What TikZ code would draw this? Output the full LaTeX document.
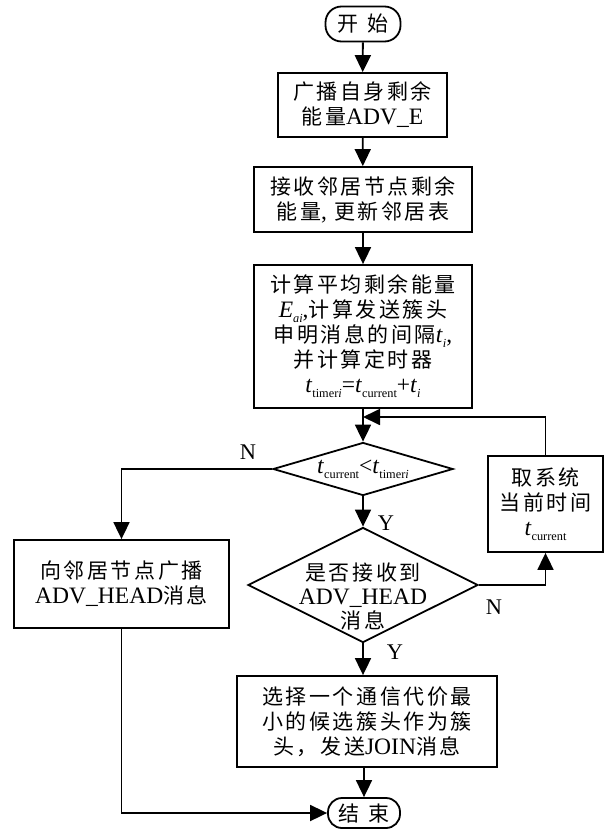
\documentclass[tikz,border=0pt]{standalone}
\usepackage{fontspec}
\setmainfont[Scale=1.12]{Liberation Serif}
\newfontfamily\cjk[LetterSpace=12]{Noto Sans CJK SC}
\usetikzlibrary{shapes.geometric,arrows.meta}
\newcommand{\en}[1]{{\rmfamily #1}}
\newcommand{\sub}[1]{\raisebox{-0.45ex}{\fontsize{11}{11}\selectfont #1}}
\newcommand{\tv}[1]{\en{\textit{t}\sub{#1}}}
\tikzset{
  base/.style={draw,line width=1.8pt,inner sep=0pt,align=center,
    font=\cjk\fontsize{21}{25}\selectfont},
  proc/.style={base,rectangle},
  term/.style={base,rectangle,rounded corners=16pt},
  decision/.style={base,diamond},
  txt/.style={align=center,font=\cjk\fontsize{21}{24}\selectfont},
  lbl/.style={font=\rmfamily\fontsize{20}{24}\selectfont},
  arr/.style={line width=1.8pt,-{Triangle[length=17pt,width=16pt]}}
}

\begin{document}
\begin{tikzpicture}[x=1pt,y=-1pt]
  \useasboundingbox (0,0) rectangle (610,832);
  % main column
  \node[term,minimum width=75pt,minimum height=35pt] (start) at (363,24) {开\hspace{0.4em}始};
  \node[proc,minimum width=169pt,minimum height=64pt] (bcast) at (362.5,105)
    {广播自身剩余\\能量\en{ADV\_E}};
  \node[proc,minimum width=218pt,minimum height=65pt] (recv) at (363,199.5)
    {接收邻居节点剩余\\能量\en{,} 更新邻居表};
  \node[proc,minimum width=218pt,minimum height=143pt] (calc) at (363,336.5)
    {计算平均剩余能量\\
     \en{\textit{E}\sub{\textit{ai}},}计算发送簇头\\
     申明消息的间隔\tv{\textit{i}}\en{,}\\
     并计算定时器\\
     \tv{timer\textit{i}}\en{=}\tv{current}\en{+}\tv{\textit{i}}};
  \node[decision,minimum width=180pt,minimum height=53pt] (timeout) at (363,469) {};
  \node[txt] (timeout-txt) at (363,469) {\tv{current}\en{<}\tv{timer\textit{i}}};
  \node[decision,minimum width=230pt,minimum height=115pt] (heard) at (363,585) {};
  \node[txt] (heard-txt) at (363,597) {是否接收到\\\en{ADV\_HEAD}\\消息};
  \node[proc,minimum width=260pt,minimum height=91pt] (join) at (367,721.5)
    {选择一个通信代价最\\小的候选簇头作为簇\\头，发送\en{JOIN}消息};
  \node[term,minimum width=72pt,minimum height=30pt,rounded corners=14pt] (stop) at (364,813)
    {结\hspace{0.4em}束};
  % side boxes
  \node[proc,minimum width=215pt,minimum height=88pt] (head) at (121.5,584)
    {向邻居节点广播\\\en{ADV\_HEAD}消息};
  \node[proc,minimum width=115pt,minimum height=96pt] (clock) at (545.5,504)
    {取系统\\当前时间\\\tv{current}};
  \coordinate (merge) at (363,417);
  % connectors
  \draw[arr] (start) -- (bcast);
  \draw[arr] (bcast) -- (recv);
  \draw[arr] (recv) -- (calc);
  \draw[arr] (calc.south) -- (timeout.north);
  \draw[arr] (clock.north) |- (merge);
  \draw[arr] (timeout.south) -- (heard.north);
  \draw[arr] (timeout.west) -| (head.north);
  \draw[arr] (heard.east) -| (clock.south);
  \draw[arr] (heard.south) -- (heard.south |- join.north);
  \draw[arr] (join.south -| stop.north) -- (stop.north);
  \draw[arr] (head.south) |- (stop.west);
  % branch labels
  \node[lbl] (no-time) at (248,452) {N};
  \node[lbl] (yes-time) at (386,523) {Y};
  \node[lbl] (no-heard) at (494,607) {N};
  \node[lbl] (yes-heard) at (395,652) {Y};
\end{tikzpicture}
\end{document}
